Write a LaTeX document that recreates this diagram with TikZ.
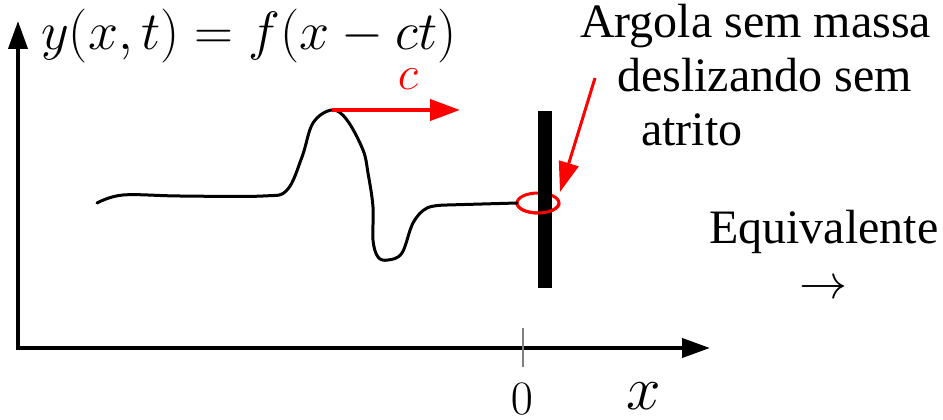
\RequirePackage{fix-cm}
\documentclass[tikz,border=0pt]{standalone}
\usepackage{fontspec}
\setmainfont{Liberation Serif}
\usepackage{tikz}
\usetikzlibrary{shapes.geometric,arrows.meta,positioning}
\tikzset{
  axis/.style={line width=4pt,{Triangle[length=28pt,width=19pt]}-{Triangle[length=28pt,width=19pt]}},
  wave/.style={line width=3pt,line join=round,line cap=round},
  velarrow/.style={red,line width=4pt,-{Triangle[length=30pt,width=21pt]}},
  pointer/.style={red,line width=3pt,-{Triangle[length=30pt,width=20pt]}},
  ringline/.style={red,line width=3pt},
  txt/.style={inner sep=0pt,font=\fontsize{48}{54}\selectfont},
  mathlbl/.style={inner sep=0pt,font=\fontsize{54}{60}\selectfont},
}

\begin{document}
\begin{tikzpicture}[x=1pt,y=-1pt]
  \useasboundingbox (0,0) rectangle (943,420);

  % axes
  \coordinate (origin) at (18,348);
  \coordinate (ytop) at (18,21);
  \coordinate (xtip) at (710,348);
  \draw[axis] (ytop) -- (origin) -- (xtip);
  \coordinate (tickup) at (523,328);
  \coordinate (tickdn) at (523,367);
  \draw[gray,line width=1.2pt] (tickup) -- (tickdn);
  \node[mathlbl,anchor=base west] (eq) at (41,50) {$y(x,t)=f(x-ct)$};
  \node[txt,anchor=base] (zero) at (522,414) {$0$};
  \node[inner sep=0pt,font=\fontsize{62}{70}\selectfont,anchor=base] (xlbl) at (644,409) {$x$};

  % ring on the rod
  \node[ellipse,draw=red,line width=3pt,minimum width=42pt,minimum height=20pt,inner sep=0pt,outer sep=0pt] (ring) at (538,203) {};
  \node[rectangle,fill=black,minimum width=14pt,minimum height=177pt,inner sep=0pt] (bar) at (545,199.5) {};
  \draw[ringline] (ring.west) arc[start angle=180,end angle=0,x radius=21,y radius=10];

  % pulse
  \coordinate (peak) at (332,110);
  \draw[wave] plot[smooth,tension=0.6] coordinates {(97,203) (123,195) (180,196) (263,196) (287,190) (302,157) (313,123) (332,110) (347,120) (363,150) (368,173) (373,207) (373,240) (378,257) (388,260) (402,253) (413,223) (427,208) (447,205)} -- (ring.west);
  \coordinate (vtip) at (460,110);
  \draw[velarrow] (peak) -- (vtip);
  \node[mathlbl,font=\fontsize{48}{54}\selectfont,text=red,anchor=base] (cvel) at (408,90) {$c$};

  % labels
  \node[txt,anchor=base west] (argola) at (580,38) {Argola sem massa};
  \node[txt,anchor=base west] (desl) at (617,92) {deslizando sem};
  \node[txt,anchor=base west] (atrito) at (641,146) {atrito};
  \coordinate (ptail) at (595,78);
  \coordinate (ptip) at (560,192);
  \draw[pointer] (ptail) -- (ptip);

  \node[txt,anchor=base west] (equiv) at (709,243) {Equivalente};
  \node[inner sep=0pt,font=\fontsize{48}{54}\selectfont,below=27pt of equiv] (eqarrow) {$\rightarrow$};
\end{tikzpicture}
\end{document}
